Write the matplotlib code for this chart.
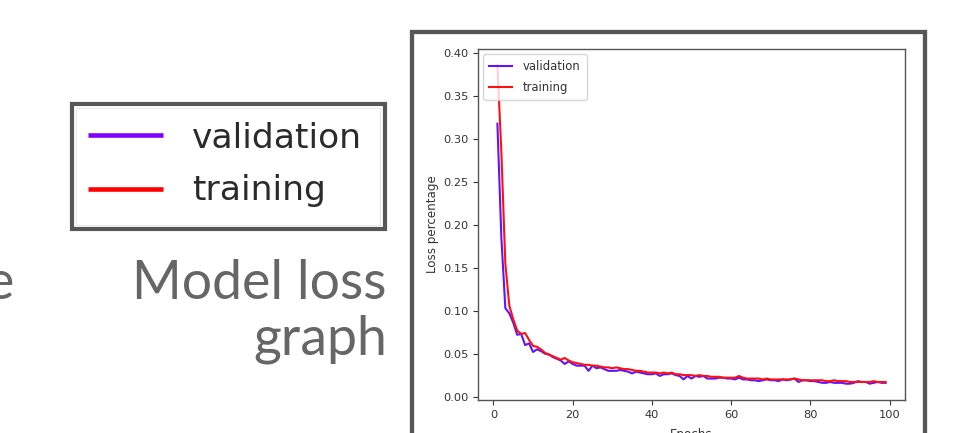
import numpy as np
import matplotlib
matplotlib.use("Agg")
import matplotlib.pyplot as plt
from matplotlib.patches import Rectangle

# loss per epoch
epochs = list(range(1, 100))
validation = [
    0.318, 0.185, 0.103, 0.097, 0.086, 0.072, 0.073, 0.060, 0.062, 0.052,
    0.055, 0.053, 0.050, 0.049, 0.046, 0.044, 0.042, 0.038, 0.041, 0.038,
    0.036, 0.036, 0.036, 0.030, 0.036, 0.033, 0.034, 0.032, 0.030, 0.030,
    0.030, 0.031, 0.030, 0.029, 0.027, 0.029, 0.028, 0.027, 0.026, 0.026,
    0.027, 0.024, 0.026, 0.026, 0.027, 0.025, 0.024, 0.020, 0.024, 0.021,
    0.024, 0.023, 0.024, 0.021, 0.021, 0.021, 0.022, 0.022, 0.021, 0.021,
    0.020, 0.022, 0.020, 0.020, 0.019, 0.019, 0.018, 0.019, 0.020, 0.019,
    0.019, 0.018, 0.020, 0.019, 0.020, 0.021, 0.017, 0.019, 0.019, 0.018,
    0.018, 0.017, 0.016, 0.016, 0.017, 0.016, 0.016, 0.016, 0.015, 0.015,
    0.016, 0.018, 0.017, 0.017, 0.015, 0.016, 0.017, 0.016, 0.016,
]
training = [
    0.386, 0.285, 0.155, 0.106, 0.090, 0.077, 0.073, 0.074, 0.066, 0.059,
    0.058, 0.055, 0.051, 0.049, 0.047, 0.045, 0.043, 0.045, 0.042, 0.040,
    0.039, 0.038, 0.037, 0.037, 0.036, 0.036, 0.035, 0.034, 0.034, 0.033,
    0.034, 0.033, 0.032, 0.032, 0.031, 0.030, 0.030, 0.029, 0.028, 0.028,
    0.028, 0.027, 0.028, 0.027, 0.028, 0.026, 0.026, 0.025, 0.025, 0.025,
    0.024, 0.025, 0.024, 0.024, 0.023, 0.023, 0.023, 0.022, 0.022, 0.022,
    0.022, 0.024, 0.022, 0.021, 0.021, 0.021, 0.021, 0.020, 0.021, 0.020,
    0.020, 0.020, 0.020, 0.020, 0.020, 0.021, 0.020, 0.019, 0.019, 0.019,
    0.019, 0.019, 0.019, 0.018, 0.018, 0.019, 0.018, 0.018, 0.018, 0.017,
    0.017, 0.017, 0.017, 0.017, 0.017, 0.018, 0.017, 0.017, 0.017,
]
series_names = ["validation", "training"]
caption = ["Model loss", "graph"]

W, H = 968, 433
fig = plt.figure(figsize=(W / 100, H / 100), dpi=100)
fig.patch.set_facecolor("white")


def px(x, y):
    # pixel coords (from top-left) -> figure fraction
    return x / W, 1 - y / H


border = "#575757"

# --- zoomed legend crop on the left ---
x0, y0 = px(72, 103.7)
x1, y1 = px(384.7, 229.3)
fig.patches.append(Rectangle((x0, y1), x1 - x0, y0 - y1, transform=fig.transFigure,
                             facecolor="none", edgecolor=border, linewidth=3.0))
fig.patches.append(Rectangle(px(76, 225), (380 - 76) / W, (225 - 108) / H,
                             transform=fig.transFigure, facecolor="none",
                             edgecolor="#e6e6e6", linewidth=0.8))
for name, color, ly, by in [(series_names[0], "#7f00ff", 134.5, 148),
                            (series_names[1], "#ff0000", 189, 200)]:
    fig.lines.append(plt.Line2D([88 / W, 163 / W], [1 - ly / H] * 2,
                                transform=fig.transFigure, color=color,
                                linewidth=3.3, solid_capstyle="butt"))
    fig.text(192 / W, 1 - by / H, name, fontsize=24.8, color="#2b2b2b",
             family="DejaVu Sans", ha="left", va="baseline")

# --- slide caption ---
cap_kw = dict(fontsize=38.6, color="#666666", family="Lato",
              ha="right", va="baseline")
fig.text(14 / W, 1 - 299 / H, "e", **cap_kw)
fig.text(387 / W, 1 - 299 / H, caption[0], **cap_kw)
fig.text(387 / W, 1 - 355 / H, caption[1], **cap_kw)

# --- screenshot of the loss chart ---
bx0, by0 = px(411.5, 32.2)
bx1 = 924.7 / W
fig.patches.append(Rectangle((bx0, -0.2), bx1 - bx0, by0 + 0.2, transform=fig.transFigure,
                             facecolor="none", edgecolor=border, linewidth=3.1))

ax = fig.add_axes([478 / W, 1 - 400 / H, (905 - 478) / W, (400 - 49) / H])
ax.plot(epochs, validation, color="#5e14ff", linewidth=1.5, label=series_names[0])
ax.plot(epochs, training, color="#ff1010", linewidth=1.5, label=series_names[1])
ax.set_xlim(-3.9, 103.9)
ax.set_ylim(-0.004, 0.405)
ax.set_xticks([0, 20, 40, 60, 80, 100])
yt = np.arange(0, 0.41, 0.05)
ax.set_yticks(yt)
ax.set_yticklabels([f"{v:.2f}" for v in yt])
ax.tick_params(labelsize=8.2, colors="#333333", length=3.5, width=0.8)
for s in ax.spines.values():
    s.set_color("#555555")
    s.set_linewidth(1.0)
ax.set_xlabel("Epochs", fontsize=8.6, color="#333333", labelpad=6)
ax.set_ylabel("Loss percentage", fontsize=8.6, color="#333333", labelpad=3)
leg = ax.legend(loc="upper left", fontsize=8.4, borderaxespad=0.45,
                labelspacing=0.7, borderpad=0.5, handletextpad=0.9)
for t in leg.get_texts():
    t.set_color("#333333")

fig.savefig("out.png", dpi=100, facecolor="white")
